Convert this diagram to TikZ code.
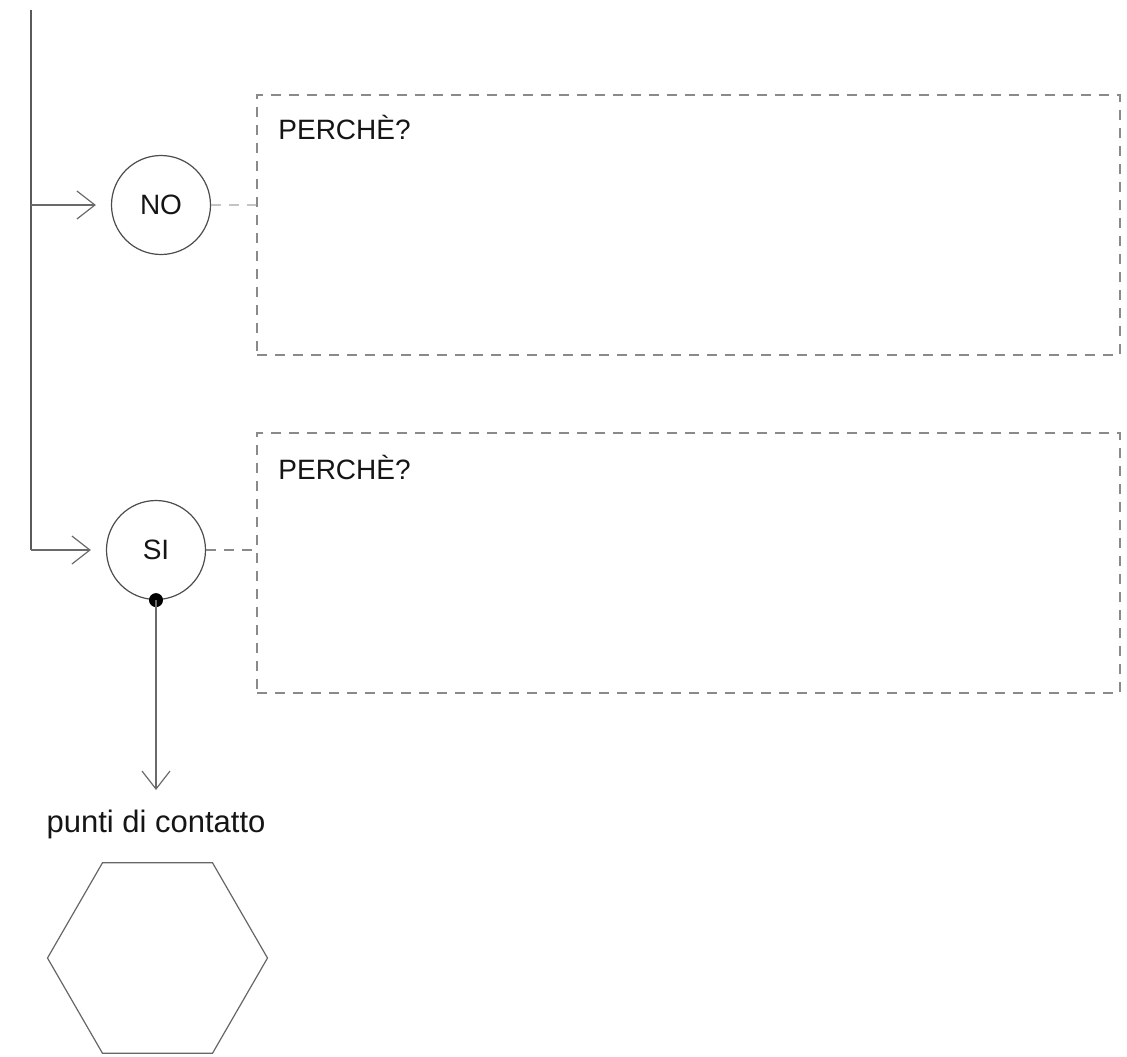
\documentclass[tikz,border=0pt]{standalone}
\usepackage{fontspec}
\setmainfont{Liberation Sans}
\usetikzlibrary{arrows.meta,shapes.geometric}
\definecolor{ink}{HTML}{151515}
\definecolor{linegray}{HTML}{6A6A6A}
\definecolor{dashgray}{HTML}{8A8A8A}
\definecolor{lightdash}{HTML}{C4C4C4}
\begin{document}
\begin{tikzpicture}[x=0.5pt,y=-0.5pt,
  trunk/.style={draw=linegray!85!black, line width=0.7pt},
  feed/.style={draw=linegray, line width=0.6pt,
    -{Straight Barb[length=9pt,width=14pt,line width=0.6pt]}},
  choice/.style={circle, draw=black!70, line width=0.6pt, minimum size=49.5pt,
    inner sep=0pt, font=\fontsize{14}{16}\selectfont, text=ink},
  whybox/.style={draw=dashgray, dash pattern=on 5pt off 4pt, line width=0.6pt,
    minimum width=431.5pt, minimum height=130pt, inner sep=0pt},
  whytext/.style={anchor=base west, inner sep=0pt, font=\fontsize{14}{16}\selectfont, text=ink},
  link/.style={dash pattern=on 5pt off 4pt, line width=0.6pt},
  hexa/.style={regular polygon, regular polygon sides=6, draw=black!60,
    line width=0.6pt, minimum size=110pt, inner sep=0pt},
  caption/.style={anchor=base, inner sep=0pt, font=\fontsize{15.5}{18}\selectfont, text=ink}
]
\useasboundingbox (0,0) rectangle (1127,1056);

% circles
\node[choice] (no) at (161,205) {NO};
\node[choice] (si) at (156,550) {SI};

% dashed boxes
\node[whybox] (box1) at (688.5,225) {};
\node[whybox] (box2) at (688.5,563) {};
\node[whytext] (why1) at (278,139) {PERCHÈ?};
\node[whytext] (why2) at (278,479) {PERCHÈ?};

% trunk line
\coordinate (top) at (31,10);
\coordinate (branch) at (31,205);
\coordinate (corner) at (31,550);
\draw[trunk] (top) -- (corner);
\draw[feed, shorten >=7.5pt] (corner) -- (si.west);
\draw[feed, shorten >=7.5pt] (branch) -- (no.west);

% dashed links
\draw[link, draw=lightdash] (no.east) -- (box1.west |- no.east);
\draw[link, draw=dashgray] (si.east) -- (box2.west |- si.east);

% dot and down arrow
\node[circle, fill=black, inner sep=0pt, minimum size=7pt] (dot) at (si.south) {};
\node[caption] (cap) at (156,832) {punti di contatto};
\coordinate (tipend) at (156,790);
\draw[feed] (dot.center) -- (tipend);

% hexagon
\node[hexa] (hex) at (157.5,958) {};
\end{tikzpicture}
\end{document}
